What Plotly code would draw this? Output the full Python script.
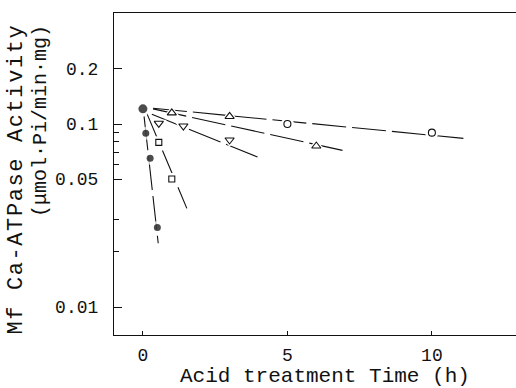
import plotly.graph_objects as go

# ---- data ----
circ_x = [5, 10]
circ_y = [0.100, 0.0897]
tri_up_x = [1, 3, 6]
tri_up_y = [0.115, 0.110, 0.0758]
tri_dn_x = [0.55, 1.4, 3.0]
tri_dn_y = [0.1009, 0.0975, 0.0818]
sq_x = [0.55, 1.0]
sq_y = [0.0794, 0.0501]
dot_x = [0, 0.1, 0.25, 0.5]
dot_y = [0.121, 0.089, 0.065, 0.0272]
dot_sizes = [9, 7, 7, 7]

# fitted lines (start/end)
lineA_x = [0.35, 11.09]; lineA_y = [0.122, 0.0835]
lineB_x = [0.35, 7.11];  lineB_y = [0.121, 0.0706]
lineC_x = [0.31, 3.99];  lineC_y = [0.113, 0.0658]
lineD_x = [0.14, 1.52];  lineD_y = [0.114, 0.0346]
lineE_x = [0.04, 0.53];  lineE_y = [0.11, 0.0223]

y_tickvals = [0.01, 0.05, 0.1, 0.2]
y_ticktext = ["0.01", "0.05", "0.1", "0.2"]
y_minor = [0.02, 0.03, 0.06, 0.07, 0.08, 0.09]
x_tickvals = [0, 5, 10]
x_ticktext = ["0", "5", "10"]

INK = "#111111"
FONT = "Liberation Mono"

fig = go.Figure()

for lx, ly in [(lineA_x, lineA_y), (lineB_x, lineB_y), (lineC_x, lineC_y),
               (lineD_x, lineD_y), (lineE_x, lineE_y)]:
    fig.add_trace(go.Scatter(x=lx, y=ly, mode="lines",
                             line=dict(color=INK, width=1.1, dash="34px,6px"),
                             hoverinfo="skip", showlegend=False))

series = [
    (circ_x, circ_y, "circle", 7, "white"),
    (tri_up_x, tri_up_y, "triangle-up", 8, "white"),
    (tri_dn_x, tri_dn_y, "triangle-down", 8, "white"),
    (sq_x, sq_y, "square", 6, "white"),
]
# white halos to break the lines around the markers
for sx, sy, sym, sz, fill in series:
    fig.add_trace(go.Scatter(x=sx, y=sy, mode="markers",
                             marker=dict(symbol=sym, size=sz + 6, color="white"),
                             hoverinfo="skip", showlegend=False))
fig.add_trace(go.Scatter(x=dot_x, y=dot_y, mode="markers",
                         marker=dict(symbol="circle", size=[s + 5 for s in dot_sizes], color="white"),
                         hoverinfo="skip", showlegend=False))

for sx, sy, sym, sz, fill in series:
    fig.add_trace(go.Scatter(x=sx, y=sy, mode="markers",
                             marker=dict(symbol=sym, size=sz, color=fill,
                                         line=dict(color=INK, width=1.1)),
                             showlegend=False))
fig.add_trace(go.Scatter(x=dot_x, y=dot_y, mode="markers",
                         marker=dict(symbol="circle", size=dot_sizes, color="black",
                                     line=dict(color="black", width=0)),
                         showlegend=False))

fig.update_layout(
    width=516, height=388,
    margin=dict(l=114, r=0, t=13, b=53),
    paper_bgcolor="white", plot_bgcolor="white",
    font=dict(family=FONT, color=INK, size=18),
    showlegend=False,
)

fig.update_xaxes(
    range=[-1.0, 12.91], showgrid=False, zeroline=False,
    showline=True, linecolor=INK, linewidth=1.2, mirror=True,
    ticks="inside", ticklen=4, tickcolor=INK, tickwidth=1,
    tickvals=x_tickvals, ticktext=x_ticktext,
    tickfont=dict(family=FONT, size=18, color=INK),
    ticklabelstandoff=3,
)
fig.update_yaxes(
    type="log", range=[-2.153, -0.3934], showgrid=False, zeroline=False,
    showline=True, linecolor=INK, linewidth=1.2, mirror=False,
    ticks="inside", ticklen=8, tickcolor=INK, tickwidth=1,
    tickvals=y_tickvals, ticktext=y_ticktext,
    tickfont=dict(family=FONT, size=18, color=INK),
    ticklabelstandoff=11,
    minor=dict(tickvals=y_minor, ticks="inside", ticklen=5, tickcolor=INK, tickwidth=1),
)

# axis titles
fig.add_annotation(text="Acid treatment Time (h)", xref="paper", yref="paper",
                   x=(325 - 114) / 402, y=(335 - 376) / 322,
                   xanchor="center", yanchor="middle", showarrow=False,
                   font=dict(family=FONT, size=21, color=INK))
fig.add_annotation(text='<span style="letter-spacing:1.6px">Mf Ca-ATPase Activity</span>',
                   xref="paper", yref="paper",
                   x=(16 - 114) / 402, y=(335 - 22) / 322, textangle=-90,
                   xanchor="center", yanchor="top", showarrow=False,
                   font=dict(family=FONT, size=22, color=INK))
fig.add_annotation(text="(μmol·Pi/min·mg)",
                   xref="paper", yref="paper",
                   x=(41 - 114) / 402, y=(335 - 23) / 322, textangle=-90,
                   xanchor="center", yanchor="top", showarrow=False,
                   font=dict(family=FONT, size=20, color=INK))

fig.write_html("out.html")
